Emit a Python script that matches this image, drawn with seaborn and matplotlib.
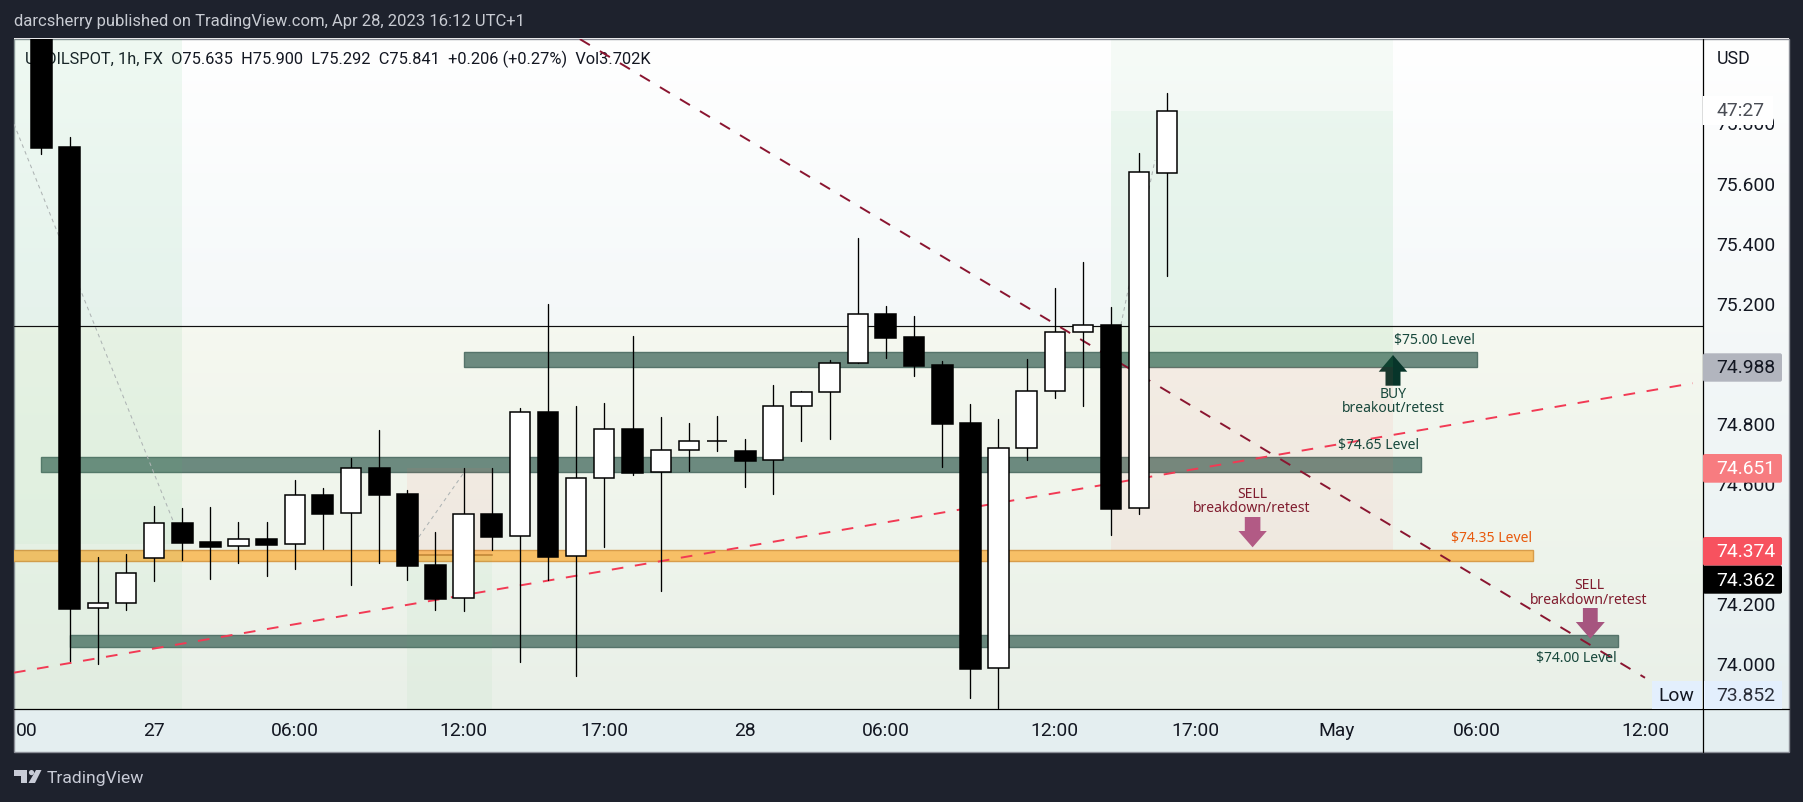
import numpy as np
import pandas as pd
import matplotlib
matplotlib.use("Agg")
import matplotlib.pyplot as plt
from matplotlib.patches import Polygon, Rectangle, FancyBboxPatch, Circle
from matplotlib.transforms import Affine2D
from matplotlib.colors import LinearSegmentedColormap
import seaborn as sns

# ---- data ----------------------------------------------------------------
opens = [76.350, 75.722, 74.185, 74.202, 74.352, 74.469, 74.405, 74.392, 74.415, 74.399,
         74.562, 74.502, 74.652, 74.565, 74.328, 74.219, 74.498, 74.425, 74.839, 74.358,
         74.618, 74.783, 74.638, 74.712, 74.741, 74.709, 74.678, 74.858, 74.905, 75.001,
         75.165, 75.089, 74.996, 74.803, 73.986, 74.718, 74.908, 75.105, 75.129, 74.518, 75.635]
highs = [76.400, 75.755, 74.356, 74.366, 74.526, 74.519, 74.523, 74.473, 74.473, 74.613,
         74.586, 74.686, 74.779, 74.579, 74.440, 74.652, 74.652, 74.852, 75.199, 74.859,
         74.868, 75.092, 74.823, 74.803, 74.826, 74.749, 74.929, 74.909, 75.012, 75.419,
         75.192, 75.159, 75.009, 74.866, 74.816, 75.016, 75.252, 75.339, 75.189, 75.702, 75.900]
lows = [75.699, 74.011, 74.001, 74.181, 74.277, 74.347, 74.284, 74.337, 74.294, 74.317,
        74.384, 74.264, 74.337, 74.281, 74.181, 74.177, 74.380, 74.008, 74.281, 73.961,
        74.391, 74.630, 74.244, 74.644, 74.710, 74.590, 74.567, 74.744, 74.750, 75.001,
        75.020, 74.960, 74.657, 73.888, 73.852, 74.680, 74.887, 74.860, 74.431, 74.500, 75.292]
closes = [75.719, 74.184, 74.202, 74.302, 74.469, 74.404, 74.391, 74.415, 74.397, 74.562,
          74.500, 74.652, 74.564, 74.327, 74.217, 74.498, 74.424, 74.838, 74.357, 74.618,
          74.782, 74.637, 74.712, 74.742, 74.742, 74.677, 74.858, 74.905, 75.001, 75.165,
          75.087, 74.992, 74.800, 73.984, 74.718, 74.908, 75.105, 75.128, 74.517, 75.637, 75.841]

price_ticks = [75.8, 75.6, 75.4, 75.2, 74.8, 74.6, 74.2, 74.0]
price_labels = ["75.800", "75.600", "75.400", "75.200", "74.800", "74.600", "74.200", "74.000"]
time_ticks = [-0.52, 4, 9, 15, 20, 25, 30, 36, 41, 46, 51, 57]
time_labels = ["00", "27", "06:00", "12:00", "17:00", "28", "06:00", "12:00", "17:00", "May", "06:00", "12:00"]

band_start = [15, 0, -1, 1]
band_end = [51, 49, 53, 56]
band_top = [75.038, 74.688, 74.379, 74.096]
band_bottom = [74.990, 74.640, 74.344, 74.058]
band_face = ["#6c8a7f", "#6c8a7f", "#f7bf66", "#6a887d"]
band_edge = ["#55736a", "#55736a", "#d89c4a", "#55736a"]

down_x = [19.13, 56.97]
down_y = [76.081, 73.954]
up_x = [-0.973, 58.67]
up_y = [73.971, 74.935]
grey_a_x = [-0.973, 4.71]
grey_a_y = [75.798, 74.469]
grey_b_x = [13.41, 15.0]
grey_b_y = [74.423, 74.636]
grey_c_x = [38.35, 39.56]
grey_c_y = [75.129, 75.678]
last_line = 75.126
stop_line = 74.363

# ---- style ---------------------------------------------------------------
sns.set_theme(style="white")
plt.rcParams["font.family"] = ["Roboto", "DejaVu Sans"]
W, H = 1803, 802
DARK = "#1e222d"
INK = "#131722"
NOTE = "Noto Sans"

fig = plt.figure(figsize=(W / 100, H / 100), dpi=100, facecolor=DARK)
PX = Affine2D().scale(1, -1).translate(0, H)

# ---- frame and background gradients (pixel space) ------------------------
bg = fig.add_axes([0, 0, 1, 1], zorder=0)
bg.set_xlim(0, W)
bg.set_ylim(H, 0)
bg.axis("off")
grad = LinearSegmentedColormap.from_list("g", ["#ffffff", "#e6eff0"])
ramp = np.linspace(0, 1, 256).reshape(-1, 1)
bg.imshow(ramp, cmap=grad, extent=(14, 1789, 709, 38.5), aspect="auto", zorder=1)
bg.add_patch(Rectangle((14, 709), 1775, 43, fc="#e4eef0", ec="none", zorder=2))
bg.add_patch(Rectangle((14, 326), 1689, 383, fc="#fafac8", alpha=0.18, ec="none", zorder=2))
bg.add_patch(Rectangle((13.5, 38.5), 1775, 713.5, fc="none", ec="#8b8e97", lw=1, zorder=3))
bg.set_xlim(0, W)
bg.set_ylim(H, 0)

# ---- chart axes ----------------------------------------------------------
ax = fig.add_axes([14 / W, (H - 709) / H, (1703 - 14) / W, (709 - 38.5) / H], zorder=1)
ax.patch.set_visible(False)

n = np.arange(len(opens))
frame = pd.DataFrame({"i": n, "o": opens, "h": highs, "l": lows, "c": closes})
frame["low_edge"] = frame[["o", "c"]].min(axis=1)
frame["size"] = (frame["c"] - frame["o"]).abs()
rising = frame[frame["c"] >= frame["o"]]
falling = frame[frame["c"] < frame["o"]]

wicks = pd.concat([frame[["i", "h"]].rename(columns={"h": "p"}),
                   frame[["i", "l"]].rename(columns={"l": "p"})])
sns.lineplot(data=wicks, x="i", y="p", units="i", estimator=None, sort=False,
             color="black", lw=0.95, ax=ax, zorder=5, legend=False)
sns.barplot(data=falling, x="i", y="size", bottom=falling["low_edge"].values, native_scale=True,
            color="black", saturation=1, width=0.74, errorbar=None, edgecolor="black",
            linewidth=1.1, ax=ax, zorder=6)
sns.barplot(data=rising, x="i", y="size", bottom=rising["low_edge"].values, native_scale=True,
            color="white", saturation=1, width=0.72, errorbar=None, edgecolor="black",
            linewidth=1.1, ax=ax, zorder=6)

# levels
for a, b, t, d, f, e in zip(band_start, band_end, band_top, band_bottom, band_face, band_edge):
    ax.add_patch(Rectangle((a, d), b - a, t - d, fc=f, ec=e, lw=1, zorder=1.6))

# position tool shading
GREEN = (0.31, 0.75, 0.43)
PINK = (1.0, 0.39, 0.36)
ymax = 76.083
ymin = 73.850
ax.fill_between([-0.973, 5], 74.40, ymax, color=GREEN, alpha=0.09, lw=0, zorder=2)
ax.fill_between([-0.973, 5], ymin, 74.40, color=GREEN, alpha=0.05, lw=0, zorder=2)
ax.fill_between([38, 48], 74.990, 75.841, color=GREEN, alpha=0.10, lw=0, zorder=2)
ax.fill_between([38, 48], 75.841, ymax, color=GREEN, alpha=0.05, lw=0, zorder=2)
ax.fill_between([38, 48], 74.379, 74.990, color=PINK, alpha=0.075, lw=0, zorder=2)
ax.fill_between([13, 16], 74.363, 74.654, color=PINK, alpha=0.075, lw=0, zorder=2)
ax.fill_between([13, 16], ymin, 74.363, color=GREEN, alpha=0.05, lw=0, zorder=2)

# lines
ax.axhline(last_line, color="#101010", lw=0.85, zorder=2.5)
sns.lineplot(x=[13.37, 16.0], y=[stop_line, stop_line], color="#c98f3e", lw=1.4, ax=ax, zorder=2.6)
sns.lineplot(x=down_x, y=down_y, color="#8a1530", lw=1.4, ax=ax, zorder=3, linestyle=(0, (6, 6)))
sns.lineplot(x=up_x, y=up_y, color="#f23a54", lw=1.4, ax=ax, zorder=3, linestyle=(0, (6, 6)))
for gx, gy in ((grey_a_x, grey_a_y), (grey_b_x, grey_b_y), (grey_c_x, grey_c_y)):
    sns.lineplot(x=gx, y=gy, color="#aeb4b4", lw=0.75, ax=ax, zorder=2.7, linestyle=(0, (3.5, 3.5)))

ax.set_xlim(-0.973, 59.03)
ax.set_ylim(ymin, ymax)
ax.set_xlabel("")
ax.set_ylabel("")
for s in ax.spines.values():
    s.set_visible(False)
ax.yaxis.tick_right()
ax.set_yticks(price_ticks)
ax.set_yticklabels(price_labels, fontsize=13.9, color=INK)
ax.set_xticks(time_ticks)
ax.set_xticklabels(time_labels, fontsize=13.9, color=INK)
ax.tick_params(axis="y", length=0, pad=9.8, left=False, right=False)
ax.tick_params(axis="x", length=0, pad=9.2)
ax.grid(False)


def note(x, y, s, color, size=10.05, family=NOTE, ha="center", z=7, **kw):
    ax.text(x, y + 0.8, s, transform=PX, color=color, fontsize=size, family=family, ha=ha,
            va="center", zorder=z, clip_on=False, **kw)


def arrow(cx, sw, hw, y0, y1, tip, color, z=1.9):
    pts = [(cx - sw, y0), (cx + sw, y0), (cx + sw, y1), (cx + hw, y1), (cx, tip),
           (cx - hw, y1), (cx - sw, y1)]
    ax.add_patch(Polygon(pts, closed=True, transform=PX, fc=color, ec="none", zorder=z, clip_on=False))


# header text and legend
note(14, 21, "darcsherry published on TradingView.com, Apr 28, 2023 16:12 UTC+1", "#c8cbd2",
     size=12.0, family="Roboto", ha="left")
note(25.4, 59, "USOILSPOT, 1h, FX  O75.635  H75.900  L75.292  C75.841  +0.206 (+0.27%)  Vol3.702K",
     INK, size=11.8, family="Roboto", ha="left", z=1.2)
note(1716.7, 58, "USD", INK, size=12.8, family="Roboto", ha="left")

# level notes
TEAL = "#17473b"
WINE = "#801c2e"
note(1434, 340, "$75.00 Level", TEAL)
note(1393, 394, "BUY", TEAL)
note(1393, 408, "breakout/retest", TEAL)
note(1378.7, 445, "$74.65 Level", TEAL)
note(1252, 494, "SELL", WINE)
note(1252, 508, "breakdown/retest", WINE)
note(1491.7, 538, "$74.35 Level", "#e8590c")
note(1589, 585, "SELL", WINE)
note(1589, 599.3, "breakdown/retest", WINE)
note(1576, 658, "$74.00 Level", TEAL)

arrow(1393, 7.5, 14.3, 385.7, 371.7, 355, "#07352a")
arrow(1252.6, 7.8, 14.2, 517, 531, 547.3, "#b25a85", z=7)
arrow(1590.3, 7.4, 14.5, 608, 622, 638.7, "#a6557f", z=7)

# scale lines
ax.add_line(plt.Line2D([1703, 1703], [38.5, 752], transform=PX, color="black", lw=0.9, zorder=8, clip_on=False))
ax.add_line(plt.Line2D([14, 1789], [709, 709], transform=PX, color="black", lw=0.9, zorder=8, clip_on=False))

# price scale flags
flags = [(353.3, 381.7, "#b2b5be", "74.988", INK), (454, 482.7, "#f77c80", "74.651", "white"),
         (537, 565.7, "#f7525f", "74.374", "white"), (565.7, 593.7, "#000000", "74.362", "white")]
for top, bottom, face, label, ink in flags:
    ax.add_patch(FancyBboxPatch((1703, top), 79, bottom - top, boxstyle="round,pad=0,rounding_size=2",
                                transform=PX, fc=face, ec="none", zorder=9, clip_on=False))
    note(1716.7, (top + bottom) / 2, label, ink, size=13.9, family="Roboto", ha="left", z=10)

ax.add_patch(Rectangle((1703, 96), 70, 29, transform=PX, fc="white", ec="none", zorder=9, clip_on=False))
note(1716.7, 110, "47:27", "#4a4d55", size=13.9, family="Roboto", ha="left", z=10)

ax.add_patch(Rectangle((1652, 681), 50, 28, transform=PX, fc="#e3effd", ec="none", zorder=9, clip_on=False))
ax.add_patch(Rectangle((1703.5, 681), 78.5, 28, transform=PX, fc="#e3effd", ec="none", zorder=9, clip_on=False))
note(1676.7, 695, "Low", INK, size=13.9, family="Roboto", z=10)
note(1716.7, 695, "73.852", "#2a2e39", size=13.9, family="Roboto", ha="left", z=10)

# footer mark
LOGO = "#c8cbd6"
ax.add_patch(Polygon([(14, 770), (27, 770), (27, 783), (20.5, 783), (20.5, 775.5), (14, 775.5)], closed=True,
                     transform=PX, fc=LOGO, ec="none", zorder=9, clip_on=False))
ax.add_patch(Circle((31.5, 772.6), 2.6, transform=PX, fc=LOGO, ec="none", zorder=9, clip_on=False))
ax.add_patch(Polygon([(36, 770), (41.5, 770), (35, 783), (28.5, 783)], closed=True,
                     transform=PX, fc=LOGO, ec="none", zorder=9, clip_on=False))
note(47, 778, "TradingView", LOGO, size=12.6, family="Roboto", ha="left")

fig.savefig("out.png", dpi=100, facecolor=DARK)
